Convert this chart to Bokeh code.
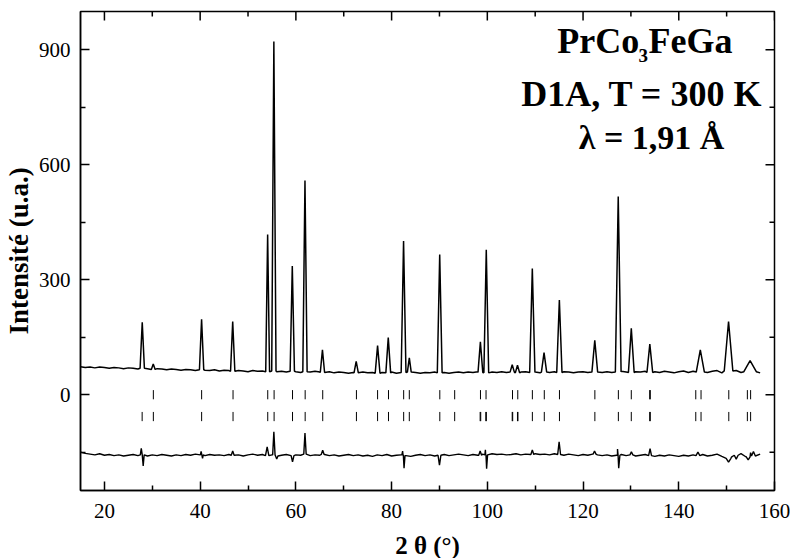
import math
from bokeh.plotting import figure
from bokeh.models import Range1d, FixedTicker, Label
from bokeh.embed import file_html
from bokeh.resources import INLINE

# ---------------- data ----------------
bg_x = list(range(15, 158))
bg_y = [73, 71, 72, 70, 72, 71, 69, 71, 70, 68,
        70, 69, 67, 69, 68, 66, 68, 67, 65, 67,
        66, 64, 66, 65, 63, 65, 64, 63, 65, 62,
        64, 63, 61, 63, 62, 60, 63, 61, 62, 60,
        62, 60, 61, 59, 61, 60, 58, 60, 59, 61,
        59, 58, 60, 57, 59, 58, 56, 58, 57, 59,
        57, 58, 56, 58, 57, 59, 56, 58, 57, 59,
        58, 56, 58, 57, 59, 57, 58, 56, 58, 59,
        57, 59, 58, 60, 58, 57, 59, 58, 60, 58,
        59, 57, 59, 60, 58, 59, 57, 59, 58, 60,
        58, 60, 59, 57, 59, 60, 58, 59, 61, 58,
        60, 58, 59, 61, 59, 58, 60, 59, 61, 58,
        60, 58, 61, 59, 57, 60, 62, 58, 61, 59,
        62, 58, 61, 63, 57, 62, 59, 63, 58, 62,
        60, 63, 57]

peak_pos = [27.9, 30.2, 40.3, 46.8, 54.1, 55.4, 59.25, 61.9, 65.55, 72.6,
            77.07, 79.3, 82.5, 83.7, 90.05, 98.55, 99.78, 105.2, 106.3, 109.4,
            111.85, 115.05, 122.45, 127.35, 130.08, 133.95, 144.5, 150.4, 154.9]
peak_top = [189, 80, 197, 191, 418, 922, 336, 559, 117, 87,
            128, 149, 401, 96, 366, 138, 378, 78, 77, 329,
            110, 247, 142, 517, 173, 132, 117, 191, 89]
peak_hw = [0.45, 0.4, 0.45, 0.45, 0.4, 0.45, 0.45, 0.45, 0.45, 0.45,
           0.5, 0.5, 0.5, 0.4, 0.5, 0.5, 0.5, 0.45, 0.45, 0.55,
           0.55, 0.55, 0.6, 0.6, 0.6, 0.6, 0.85, 0.9, 1.3]

dif_x = list(range(15, 158))
dif_y = [-150, -153, -155, -157, -154, -158, -156, -159, -157, -160,
         -158, -156, -159, -157, -160, -157, -159, -156, -158, -160,
         -157, -159, -156, -158, -155, -157, -159, -156, -158, -157,
         -159, -156, -158, -157, -160, -157, -155, -158, -156, -159,
         -157, -160, -158, -156, -159, -157, -158, -155, -159, -157,
         -158, -156, -159, -157, -160, -158, -156, -159, -157, -160,
         -158, -161, -157, -159, -156, -160, -158, -157, -159, -161,
         -158, -156, -159, -157, -160, -158, -156, -159, -157, -155,
         -157, -159, -156, -158, -155, -157, -154, -156, -155, -157,
         -156, -154, -157, -155, -156, -154, -156, -155, -157, -154,
         -156, -158, -155, -157, -159, -156, -158, -155, -157, -159,
         -157, -160, -158, -156, -159, -157, -160, -158, -156, -159,
         -161, -158, -160, -157, -159, -161, -158, -160, -157, -159,
         -156, -160, -158, -155, -161, -166, -163, -158, -154, -162,
         -151, -160, -155]

dfeat_pos = [27.7, 28.1, 40.2, 40.5, 46.8, 54.0, 55.4, 56.0, 59.3, 61.9,
             65.6, 82.3, 82.6, 90.0, 98.5, 99.6, 99.85, 109.4, 115.0, 122.4,
             127.2, 127.45, 130.1, 134.0, 144.0, 150.4, 152.0, 154.5, 155.6]
dfeat_val = [-140, -186, -148, -166, -147, -136, -97, -168, -175, -100,
             -145, -147, -192, -184, -147, -144, -193, -144, -123, -147,
             -142, -192, -149, -141, -150, -176, -168, -170, -148]
dfeat_hw = [0.2, 0.2, 0.15, 0.15, 0.3, 0.35, 0.25, 0.25, 0.3, 0.25,
            0.3, 0.15, 0.2, 0.3, 0.3, 0.12, 0.2, 0.3, 0.3, 0.3,
            0.12, 0.25, 0.3, 0.3, 0.4, 0.5, 0.4, 0.4, 0.4]

bragg1 = [30.22, 40.31, 46.87, 54.12, 55.45, 59.30, 61.94, 65.61, 72.65, 77.07,
          79.35, 82.52, 83.70, 90.07, 93.18, 98.57, 99.73, 105.26, 106.36, 109.41,
          111.90, 115.07, 122.47, 127.38, 130.08, 133.92, 134.05, 143.55, 144.65, 150.45,
          154.33, 155.01]
bragg2 = [27.88, 30.22, 40.31, 46.87, 54.12, 55.45, 59.30, 61.94, 65.61, 72.65,
          77.07, 79.35, 82.52, 83.70, 90.07, 93.18, 98.5, 98.62, 99.68, 99.8,
          105.2, 105.3, 106.3, 106.4, 109.41, 111.90, 115.07, 122.47, 127.38, 130.08,
          133.92, 134.05, 143.55, 144.65, 150.45, 154.33, 155.01]
bragg_row_y = [0, -57]
bragg_half = 12

x_major = [20, 40, 60, 80, 100, 120, 140, 160]
x_minor = [30, 50, 70, 90, 110, 130, 150]
y_major = [0, 300, 600, 900]
y_minor = [-150, 150, 450, 750]
X0, X1, Y0, Y1 = 15, 160, -250, 1000


def build_profile(bx, by, cx, ctop, chw):
    pts = []
    for x, y in zip(bx, by):
        if not any(abs(x - c) <= w for c, w in zip(cx, chw)):
            pts.append((x, y))
    for c, t, w in zip(cx, ctop, chw):
        i = min(range(len(bx)), key=lambda k: abs(bx[k] - c))
        b = by[i]
        pts += [(c - w, b), (c, t), (c + w, b)]
    pts.sort()
    return [q[0] for q in pts], [q[1] for q in pts]


obs_x, obs_y = build_profile(bg_x, bg_y, peak_pos, peak_top, peak_hw)
dif_px, dif_py = build_profile(dif_x, dif_y, dfeat_pos, dfeat_val, dfeat_hw)

# ---------------- figure ----------------
FONT = "Liberation Serif"
p = figure(width=790, height=562,
           x_range=Range1d(X0, X1), y_range=Range1d(Y0, Y1),
           output_backend="svg", toolbar_location=None,
           min_border_left=74, min_border_right=16,
           min_border_top=11, min_border_bottom=72)
p.xgrid.visible = False
p.ygrid.visible = False
p.outline_line_color = "black"
p.outline_line_width = 1.5
p.background_fill_color = "white"
p.border_fill_color = "white"

p.line(obs_x, obs_y, line_color="black", line_width=1.5)
p.line(dif_px, dif_py, line_color="black", line_width=1.4)

p.segment(x0=bragg1, x1=bragg1,
          y0=[bragg_row_y[0] - bragg_half] * len(bragg1),
          y1=[bragg_row_y[0] + bragg_half] * len(bragg1),
          line_color="black", line_width=1)
p.segment(x0=bragg2, x1=bragg2,
          y0=[bragg_row_y[1] - bragg_half] * len(bragg2),
          y1=[bragg_row_y[1] + bragg_half] * len(bragg2),
          line_color="black", line_width=1)

# mirrored inward ticks on the top and right edges (clipped to the frame)
p.scatter(x=x_major, y=[Y1] * len(x_major), marker="dash", angle=math.pi / 2,
          size=18, line_color="black", line_width=1.5)
p.scatter(x=x_minor, y=[Y1] * len(x_minor), marker="dash", angle=math.pi / 2,
          size=10, line_color="black", line_width=1.5)
p.scatter(x=[X1] * len(y_major), y=y_major, marker="dash",
          size=18, line_color="black", line_width=1.5)
p.scatter(x=[X1] * len(y_minor), y=y_minor, marker="dash",
          size=10, line_color="black", line_width=1.5)

for ax, maj, mnr in ((p.xaxis[0], x_major, x_minor), (p.yaxis[0], y_major, y_minor)):
    ax.ticker = FixedTicker(ticks=maj, minor_ticks=mnr)
    ax.axis_line_width = 1.5
    ax.axis_line_color = "black"
    ax.major_tick_in = 9
    ax.major_tick_out = 0
    ax.minor_tick_in = 5
    ax.minor_tick_out = 0
    ax.major_tick_line_width = 1.5
    ax.minor_tick_line_width = 1.5
    ax.major_tick_line_color = "black"
    ax.minor_tick_line_color = "black"
    ax.major_label_text_font = FONT
    ax.major_label_text_font_size = "21px"
    ax.major_label_text_color = "black"
    ax.axis_label_text_font = FONT
    ax.axis_label_text_font_style = "bold"
    ax.axis_label_text_color = "black"

p.xaxis.axis_label = "2 θ (°)"
p.xaxis.axis_label_text_font_size = "25px"
p.xaxis.major_label_standoff = 13
p.xaxis.axis_label_standoff = 11
p.yaxis.axis_label = "Intensité (u.a.)"
p.yaxis.axis_label_text_font_size = "27px"
p.yaxis.major_label_standoff = 10
p.yaxis.axis_label_standoff = 2


# ---------------- annotations ----------------
def lab(x, y, t, size, align="left"):
    p.add_layout(Label(x=x, y=y, text=t, text_font=FONT, text_font_style="bold",
                       text_font_size=size, text_color="black",
                       text_align=align, text_baseline="alphabetic"))


lab(114.6, 922, "PrCo", "36px")
lab(131.6, 885, "3", "19px")
lab(133.7, 922, "FeGa", "36px")
lab(132.3, 784, "D1A, T = 300 K", "36px", "center")
lab(134.3, 670, "λ = 1,91 Å", "34px", "center")

open("out.html", "w").write(file_html(p, INLINE))
